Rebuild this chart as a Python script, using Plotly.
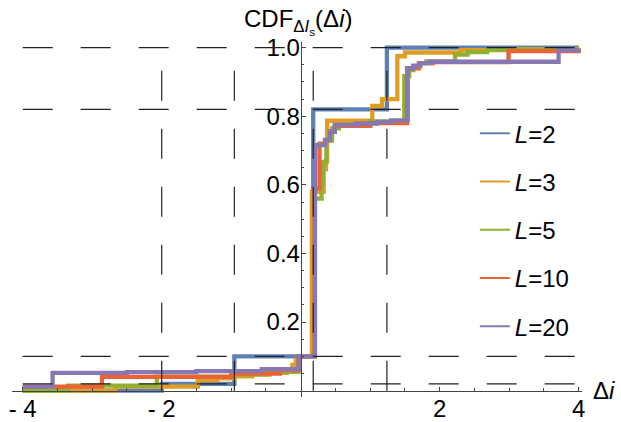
import plotly.graph_objects as go

# ---------------- data ----------------
series_names = ["L=2", "L=3", "L=5", "L=10", "L=20"]
series_labels = ["<i>L</i>=2", "<i>L</i>=3", "<i>L</i>=5", "<i>L</i>=10", "<i>L</i>=20"]
colors = ["#5E81B5", "#E19C24", "#8FB032", "#EB6235", "#8778B3"]

x_L2 = [-4, -2, -0.955, 0.18, 1.24, 4]
y_L2 = [0, 0.02, 0.10, 0.82, 1.0, 1.0]

x_L3 = [-4, -2.67, -1.48, -1.2, -0.95, -0.7, -0.45, -0.2, -0.12, -0.07, -0.02,
        0.16, 0.33, 0.36, 0.38, 1.03, 1.17, 1.39, 1.5, 2.3, 3.0, 4]
y_L3 = [0, 0.012, 0.031, 0.036, 0.042, 0.047, 0.052, 0.057, 0.075, 0.09, 0.10,
        0.58, 0.645, 0.67, 0.787, 0.83, 0.85, 0.975, 0.986, 0.993, 0.996, 1.0]

x_L5 = [-4, -3.35, -2.07, -1.0, -0.5, -0.03, 0.2, 0.3, 0.32, 0.37, 0.45, 0.55,
        1.0, 1.49, 1.56, 1.62, 1.72, 1.81, 2.22, 2.4, 2.68, 4]
y_L5 = [0, 0.015, 0.041, 0.048, 0.055, 0.10, 0.56, 0.60, 0.666, 0.73, 0.765, 0.775,
        0.785, 0.917, 0.935, 0.946, 0.955, 0.96, 0.98, 0.987, 0.994, 0.998]

x_L10 = [-4, -2.86, -1.0, -0.3, -0.03, 0.2, 0.27, 0.35, 0.42, 0.49, 1.0,
         1.53, 1.7, 1.9, 2.99, 4]
y_L10 = [0.012, 0.040, 0.050, 0.060, 0.10, 0.59, 0.72, 0.73, 0.755, 0.772, 0.78,
         0.94, 0.955, 0.958, 0.99, 0.996]

x_L20 = [-4, -3.57, -2.5, -1.5, -0.56, -0.03, 0.205, 0.35, 0.42, 0.49, 0.8, 1.1,
         1.3, 1.54, 1.62, 1.72, 1.86, 3.71, 4]
y_L20 = [0.012, 0.052, 0.054, 0.057, 0.063, 0.10, 0.716, 0.731, 0.755, 0.775, 0.779,
         0.784, 0.788, 0.94, 0.948, 0.955, 0.959, 0.993, 0.995]

series_x = [x_L2, x_L3, x_L5, x_L10, x_L20]
series_y = [y_L2, y_L3, y_L5, y_L10, y_L20]

# dashed reference levels
ref_y_levels = [0.02, 0.10, 0.82, 1.0]
ref_x_levels = [-2, -0.955, 0.18, 1.24]

x_tick_vals = [-4, -2, 2, 4]
x_tick_text = ["- 4", "- 2", "2", "4"]
x_minor_vals = [-3.5, -3, -2.5, -1.5, -1, -0.5, 0.5, 1, 1.5, 2.5, 3, 3.5]
y_tick_vals = [0.2, 0.4, 0.6, 0.8, 1.0]
y_tick_text = ["0.2", "0.4", "0.6", "0.8", "1.0"]
y_minor_vals = [0.05, 0.1, 0.15, 0.25, 0.3, 0.35, 0.45, 0.5, 0.55, 0.65, 0.7, 0.75,
                0.85, 0.9, 0.95]

# ---------------- figure ----------------
x_range = [-4.154, 4.047]
y_range = [-0.0184, 1.0166]
FONT = "Liberation Sans, Arial, sans-serif"
AX = "#444444"
FS = 24

fig = go.Figure()
for xs, ys, c, nm in zip(series_x, series_y, colors, series_names):
    fig.add_trace(go.Scatter(x=xs, y=ys, mode="lines", line=dict(color=c, width=4.3, shape="hv"),
                             name=nm, showlegend=False, hoverinfo="skip"))
# legend entries (thin lines)
for c, lab, nm in zip(colors, series_labels, series_names):
    fig.add_trace(go.Scatter(x=[None], y=[None], mode="lines", line=dict(color=c, width=2),
                             name=lab, legendgroup=nm, showlegend=True))

shapes = []
for yv in ref_y_levels:
    shapes.append(dict(type="line", xref="x", yref="y", x0=-4, x1=4, y0=yv, y1=yv,
                       line=dict(color="#222222", width=1.2, dash="30px,28px"), layer="above"))
for xv in ref_x_levels:
    shapes.append(dict(type="line", xref="x", yref="y", x0=xv, x1=xv, y0=0, y1=1,
                       line=dict(color="#222222", width=1.2, dash="30px,28px"), layer="above"))

x_pos = (0 - x_range[0]) / (x_range[1] - x_range[0])
y_pos = (0 - y_range[0]) / (y_range[1] - y_range[0])

fig.update_layout(
    width=621, height=422,
    margin=dict(l=12, r=39, t=42, b=25, autoexpand=False),
    plot_bgcolor="white", paper_bgcolor="white",
    font=dict(family=FONT, size=FS, color="black"),
    shapes=shapes,
    xaxis=dict(range=x_range, showgrid=False, zeroline=False, showline=True, linecolor=AX,
               linewidth=1, anchor="free", position=y_pos, side="bottom",
               tickmode="array", tickvals=x_tick_vals, ticktext=x_tick_text,
               ticks="inside", ticklen=4, tickcolor=AX, tickwidth=1, ticklabelstandoff=-3,
               minor=dict(tickmode="array", tickvals=x_minor_vals, ticks="inside", ticklen=2.5,
                          tickcolor=AX, showgrid=False),
               tickfont=dict(size=FS, family=FONT, color="black"), automargin=False),
    yaxis=dict(range=y_range, showgrid=False, zeroline=False, showline=True, linecolor=AX,
               linewidth=1, anchor="free", position=x_pos, side="left",
               tickmode="array", tickvals=y_tick_vals, ticktext=y_tick_text,
               ticks="inside", ticklen=4, tickcolor=AX, tickwidth=1, ticklabelstandoff=-4,
               minor=dict(tickmode="array", tickvals=y_minor_vals, ticks="inside", ticklen=2.5,
                          tickcolor=AX, showgrid=False),
               tickfont=dict(size=FS, family=FONT, color="black"), automargin=False),
    legend=dict(x=0.812, y=0.805, xanchor="left", yanchor="top", bgcolor="rgba(0,0,0,0)",
                font=dict(size=FS, family=FONT, color="black"), tracegroupgap=14,
                itemclick=False),
    annotations=[
        dict(text="CDF<sub>Δ<i>I</i><sub>s</sub></sub>(Δ<i>i</i>)", xref="x", yref="paper",
             x=-0.04, y=1.0, xanchor="center", yanchor="bottom", yshift=2, showarrow=False,
             font=dict(size=FS, family=FONT, color="black")),
        dict(text="Δ<i>i</i>", xref="paper", yref="y", x=1.0, y=0, xanchor="left",
             yanchor="middle", xshift=9, showarrow=False,
             font=dict(size=FS, family=FONT, color="black")),
    ],
)

fig.write_html("out.html", config={"displayModeBar": False},
               post_script="document.body.style.margin='0px';document.body.style.overflow='hidden';")
